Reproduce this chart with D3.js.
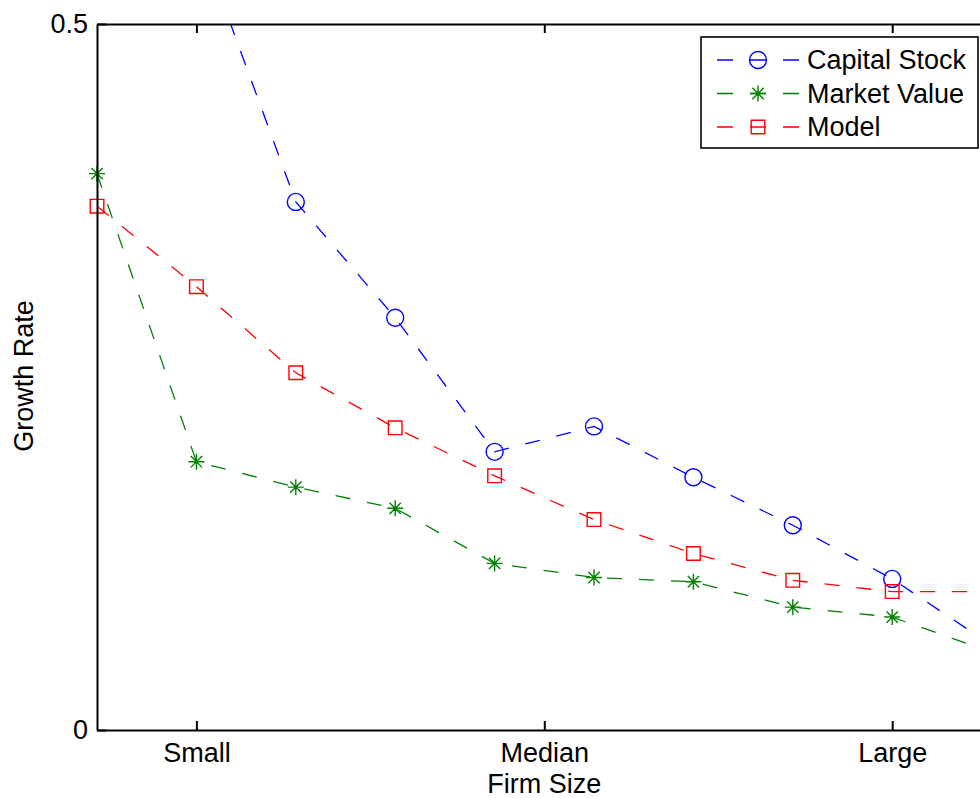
<!DOCTYPE html>
<html>
<head>
<meta charset="utf-8">
<title>Growth Rate by Firm Size</title>
<style>
body { margin: 0; background: #fff; }
text { font-family: "Liberation Sans", Arial, sans-serif; font-size: 27px; fill: #000; }
.axis path, .axis line { stroke: #000; stroke-width: 2; }
.series { fill: none; stroke-width: 1.3; stroke-dasharray: 15,17; }
.marker { fill: none; stroke-width: 1.4; }
</style>
</head>
<body>
<svg width="980" height="798"></svg>

<script src="https://cdn.jsdelivr.net/npm/d3@7"></script>
<script>

// firm size positions 0..9 (Small = 1, Median = 4.5, Large = 8)
var sizeIndex = [0, 1, 2, 3, 4, 5, 6, 7, 8, 9];
var tickPos = [1, 4.5, 8];
var tickNames = ["Small", "Median", "Large"];

// growth rates (first capital stock point is off the chart)
var capitalStock = [null, 0.566, 0.374, 0.292, 0.197, 0.215, 0.179, 0.145, 0.107, 0.060];
var marketValue  = [0.394, 0.190, 0.172, 0.157, 0.118, 0.108, 0.105, 0.087, 0.080, 0.055];
var model        = [0.371, 0.314, 0.253, 0.214, 0.180, 0.149, 0.125, 0.106, 0.098, 0.098];

var series = [
  { name: "Capital Stock", values: capitalStock, color: "#0000ff", marker: "circle" },
  { name: "Market Value",  values: marketValue,  color: "#008000", marker: "star" },
  { name: "Model",         values: model,        color: "#ff0000", marker: "square" }
];

var svg = d3.select("svg");
var plotLeft = 97, plotTop = 24, plotBottom = 730, step = 99.4;

var x = d3.scaleLinear().domain([0, 9]).range([plotLeft, plotLeft + 9 * step]);
var y = d3.scaleLinear().domain([0, 0.5]).range([plotBottom, plotTop]);

svg.append("clipPath").attr("id", "plotclip")
  .append("rect")
    .attr("x", plotLeft).attr("y", plotTop)
    .attr("width", 980 - plotLeft).attr("height", plotBottom - plotTop);

function markerPath(type) {
  if (type === "circle") {
    return d3.symbol().type(d3.symbolCircle).size(Math.PI * 8.5 * 8.5)();
  }
  if (type === "square") {
    return "M-6.8,-6.8H6.8V6.8H-6.8Z";
  }
  // asterisk: plus and cross
  var r = 8, d = r * Math.SQRT1_2;
  return "M" + (-r) + ",0H" + r + "M0," + (-r) + "V" + r +
         "M" + (-d) + "," + (-d) + "L" + d + "," + d +
         "M" + (-d) + "," + d + "L" + d + "," + (-d);
}

var line = d3.line()
    .defined(function(d) { return d != null; })
    .x(function(d, i) { return x(sizeIndex[i]); })
    .y(function(d) { return y(d); });

series.forEach(function(s) {
  svg.append("path")
      .attr("class", "series")
      .attr("clip-path", "url(#plotclip)")
      .attr("stroke", s.color)
      .attr("d", line(s.values));

  svg.selectAll(null)
      .data(s.values.map(function(v, i) { return { i: i, v: v }; })
        .filter(function(d) { return d.v != null && d.v <= 0.5; }))
    .enter().append("path")
      .attr("class", "marker")
      .attr("stroke", s.color)
      .attr("transform", function(d) { return "translate(" + x(sizeIndex[d.i]) + "," + y(d.v) + ")"; })
      .attr("d", markerPath(s.marker));
});

// axes box (right side lies outside the picture)
svg.append("g")
    .attr("class", "axis")
    .attr("transform", "translate(0," + plotBottom + ")")
    .call(d3.axisBottom(x).tickValues(tickPos)
      .tickFormat(function(d, i) { return tickNames[i]; })
      .tickSize(-9).tickSizeOuter(0).tickPadding(13));

svg.append("g")
    .attr("class", "axis")
    .attr("transform", "translate(0," + plotTop + ")")
    .call(d3.axisTop(x).tickValues(tickPos).tickFormat("")
      .tickSize(-9).tickSizeOuter(0));

svg.append("g")
    .attr("class", "axis")
    .attr("transform", "translate(" + plotLeft + ",0)")
    .call(d3.axisLeft(y).tickValues([0, 0.5]).tickFormat(d3.format(""))
      .tickSize(-9).tickSizeOuter(0).tickPadding(9));

svg.selectAll(".axis").attr("font-family", null).attr("font-size", null);
svg.selectAll(".axis text").attr("fill", "#000");

// axis titles
svg.append("text")
    .attr("x", x(4.5)).attr("y", 793)
    .attr("text-anchor", "middle")
    .text("Firm Size");

svg.append("text")
    .attr("transform", "translate(33,376) rotate(-90)")
    .attr("text-anchor", "middle")
    .text("Growth Rate");

// legend
var legend = svg.append("g");
legend.append("rect")
    .attr("x", 701).attr("y", 37)
    .attr("width", 277).attr("height", 111)
    .attr("fill", "#fff").attr("stroke", "#000").attr("stroke-width", 1.6);

var rows = [60, 93.5, 127];
series.forEach(function(s, i) {
  legend.append("line")
      .attr("class", "series")
      .attr("x1", 717).attr("x2", 800)
      .attr("y1", rows[i]).attr("y2", rows[i])
      .attr("stroke", s.color)
      .style("stroke-dasharray", "16,17");
  legend.append("path")
      .attr("class", "marker")
      .attr("stroke", s.color)
      .attr("transform", "translate(758," + rows[i] + ")")
      .attr("d", markerPath(s.marker));
  legend.append("text")
      .attr("x", 807).attr("y", rows[i])
      .attr("dy", "0.35em")
      .text(s.name);
});

</script>
</body>
</html>
